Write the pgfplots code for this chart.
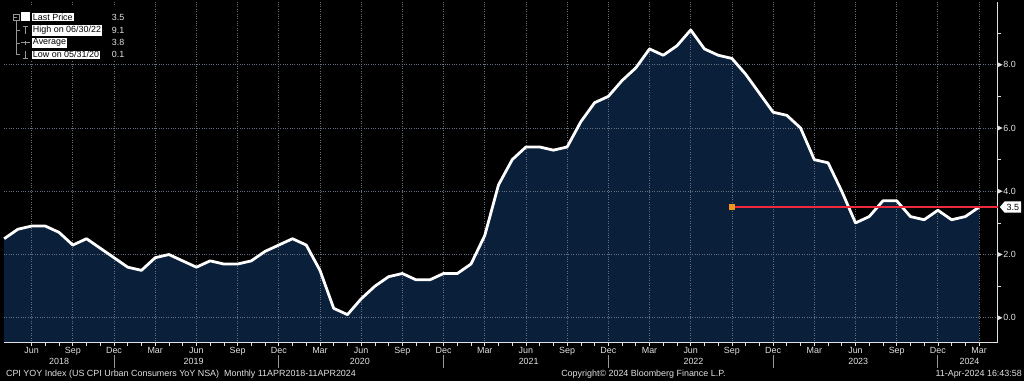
\documentclass[border=0pt]{standalone}
\usepackage{fontspec}
\setmainfont{Liberation Sans}
\usepackage{xcolor}
\usepackage{pgfplots}
\usepackage{pgfplotstable}
\pgfplotsset{compat=1.18}
\usepgfplotslibrary{fillbetween}
\usetikzlibrary{shapes.symbols}
\definecolor{bbnavy}{RGB}{10,31,58}
\definecolor{bbgrid}{RGB}{100,112,128}
\definecolor{bbtext}{RGB}{225,225,225}
\definecolor{bbred}{RGB}{240,40,60}
\definecolor{bborange}{RGB}{240,150,30}
\definecolor{bbtree}{RGB}{150,150,150}
\newcommand\bbfont{\fontsize{9}{10}\selectfont}

\pgfplotstableread{
i v
0 2.5
1 2.8
2 2.9
3 2.9
4 2.7
5 2.3
6 2.5
7 2.2
8 1.9
9 1.6
10 1.5
11 1.9
12 2.0
13 1.8
14 1.6
15 1.8
16 1.7
17 1.7
18 1.8
19 2.1
20 2.3
21 2.5
22 2.3
23 1.5
24 0.3
25 0.1
26 0.6
27 1.0
28 1.3
29 1.4
30 1.2
31 1.2
32 1.4
33 1.4
34 1.7
35 2.6
36 4.2
37 5.0
38 5.4
39 5.4
40 5.3
41 5.4
42 6.2
43 6.8
44 7.0
45 7.5
46 7.9
47 8.5
48 8.3
49 8.6
50 9.1
51 8.5
52 8.3
53 8.2
54 7.7
55 7.1
56 6.5
57 6.4
58 6.0
59 5.0
60 4.9
61 4.0
62 3.0
63 3.2
64 3.7
65 3.7
66 3.2
67 3.1
68 3.4
69 3.1
70 3.2
71 3.5
}\cpi

\begin{document}
\pagecolor{black}
\begin{tikzpicture}
\path (0bp,0bp) rectangle (1024bp,382bp);
\begin{axis}[
  at={(0bp,38bp)}, anchor=south west,
  scale only axis, width=997.5bp, height=342bp,
  xmin=-0.02, xmax=72.35, ymin=-0.787, ymax=9.984,
  set layers,
  clip=false,
  axis x line*=bottom, axis y line*=right,
  axis line style={draw=bbtext, line width=0.9bp, -},
  xtick={2,5,...,71},
  xticklabels={Jun,Sep,Dec,Mar,Jun,Sep,Dec,Mar,Jun,Sep,Dec,Mar,Jun,Sep,Dec,Mar,Jun,Sep,Dec,Mar,Jun,Sep,Dec,Mar},
  minor x tick num=2,
  ytick={0,2,4,6,8}, minor ytick={1,3,5,7,9},
  /pgf/number format/assume math mode=true,
  yticklabel={\pgfmathprintnumber[fixed,fixed zerofill,precision=1]{\tick}},
  tick align=outside,
  major tick length=3bp, minor tick length=3bp,
  tick style={draw=bbtext, line width=0.7bp},
  xmajorgrids, ymajorgrids,
  grid style={draw=bbgrid, dotted, line width=0.8bp},
  ticklabel style={font=\bbfont, text=bbtext},
  xticklabel style={inner sep=1.5bp},
  yticklabel style={inner sep=2.5bp},
]
\addplot[draw=none, name path=base, forget plot] coordinates {(0,-0.787) (71,-0.787)};
\addplot[name path=cpi, draw=none, forget plot] table[x=i,y=v]{\cpi};
\addplot[bbnavy] fill between[of=cpi and base, on layer=axis background];
\addplot[white, line width=2.8bp, line join=round] table[x=i,y=v]{\cpi};
\addplot[bbred, line width=1.8bp, mark=square*, mark size=2.5bp, mark indices={1}, mark options={fill=bborange, draw=bborange}] coordinates {(53,3.5) (72.35,3.5)};
% y major tick triangles
\pgfplotsinvokeforeach{0,2,4,6,8}{
  \fill[bbtext] (axis cs:72.35,#1) ++(0bp,2.5bp) -- ++(5bp,-2.5bp) -- ++(-5bp,-2.5bp) -- cycle;
}
% last value tag
\node[shape=signal, signal to=west, signal pointer angle=100, fill=white, text=black, font=\bbfont, inner xsep=2bp, inner ysep=2.5bp, anchor=west] at (axis cs:72.35,3.5) [xshift=2bp] {3.5};
% year labels
\node[font=\bbfont, text=bbtext] at (axis cs:4.0,-0.787) [yshift=-19bp] {2018};
\node[font=\bbfont, text=bbtext] at (axis cs:13.8,-0.787) [yshift=-19bp] {2019};
\node[font=\bbfont, text=bbtext] at (axis cs:25.9,-0.787) [yshift=-19bp] {2020};
\node[font=\bbfont, text=bbtext] at (axis cs:38.2,-0.787) [yshift=-19bp] {2021};
\node[font=\bbfont, text=bbtext] at (axis cs:50.2,-0.787) [yshift=-19bp] {2022};
\node[font=\bbfont, text=bbtext] at (axis cs:62.2,-0.787) [yshift=-19bp] {2023};
\node[font=\bbfont, text=bbtext] at (axis cs:70.3,-0.787) [yshift=-19bp] {2024};
\pgfplotsinvokeforeach{8,20,32,44,56,68}{
  \draw[bbtree, line width=0.8bp] (axis cs:#1,-0.787) ++(0bp,-12bp) -- ++(0bp,-13bp);
}
\end{axis}
% legend
\fill[black] (0bp,376bp) rectangle (125bp,321bp);
\draw[bbtree, line width=0.6bp] (12bp,362bp) -- (12bp,327bp);
\draw[bbtree, line width=0.6bp] (9bp,362bp) rectangle (15bp,368bp);
\draw[bbtree, line width=0.6bp] (10.5bp,365bp) -- (13.5bp,365bp);
\draw[bbtree, line width=0.6bp] (12bp,351.5bp) -- (16bp,351.5bp) (12bp,339bp) -- (16bp,339bp) (12bp,327bp) -- (16bp,327bp);
\fill[white] (17bp,360.5bp) rectangle (26bp,369.5bp);
\draw[bbtree, line width=0.7bp] (19bp,355.5bp) -- (24bp,355.5bp) (21.5bp,355.5bp) -- (21.5bp,347.5bp);
\draw[bbtree, line width=0.7bp] (17bp,339bp) -- (26bp,339bp) (21.5bp,337bp) -- (21.5bp,341bp);
\draw[bbtree, line width=0.7bp] (19bp,323bp) -- (24bp,323bp) (21.5bp,323bp) -- (21.5bp,331bp);
\node[anchor=west, fill=white, text=black, font=\bbfont, inner xsep=1bp, inner ysep=1bp] at (28bp,365bp) {Last Price};
\node[anchor=west, fill=white, text=black, font=\bbfont, inner xsep=1bp, inner ysep=1bp] at (28bp,351.5bp) {High on 06/30/22};
\node[anchor=west, fill=white, text=black, font=\bbfont, inner xsep=1bp, inner ysep=1bp] at (28bp,339bp) {Average};
\node[anchor=west, fill=white, text=black, font=\bbfont, inner xsep=1bp, inner ysep=1bp] at (28bp,327bp) {Low on 05/31/20};
\node[anchor=east, text=bbtext, font=\bbfont, inner sep=0pt] at (121bp,365bp) {3.5};
\node[anchor=east, text=bbtext, font=\bbfont, inner sep=0pt] at (121bp,351.5bp) {9.1};
\node[anchor=east, text=bbtext, font=\bbfont, inner sep=0pt] at (121bp,339bp) {3.8};
\node[anchor=east, text=bbtext, font=\bbfont, inner sep=0pt] at (121bp,327bp) {0.1};
% footer
\node[anchor=west, text=bbtext, font=\bbfont, inner sep=0pt] at (2bp,6bp) {CPI YOY Index (US CPI Urban Consumers YoY NSA)\ \ Monthly 11APR2018-11APR2024};
\node[text=bbtext, font=\bbfont, inner sep=0pt] at (642bp,6bp) {Copyright© 2024 Bloomberg Finance L.P.};
\node[anchor=east, text=bbtext, font=\bbfont, inner sep=0pt] at (1022bp,6bp) {11-Apr-2024 16:43:58};
\end{tikzpicture}
\end{document}
